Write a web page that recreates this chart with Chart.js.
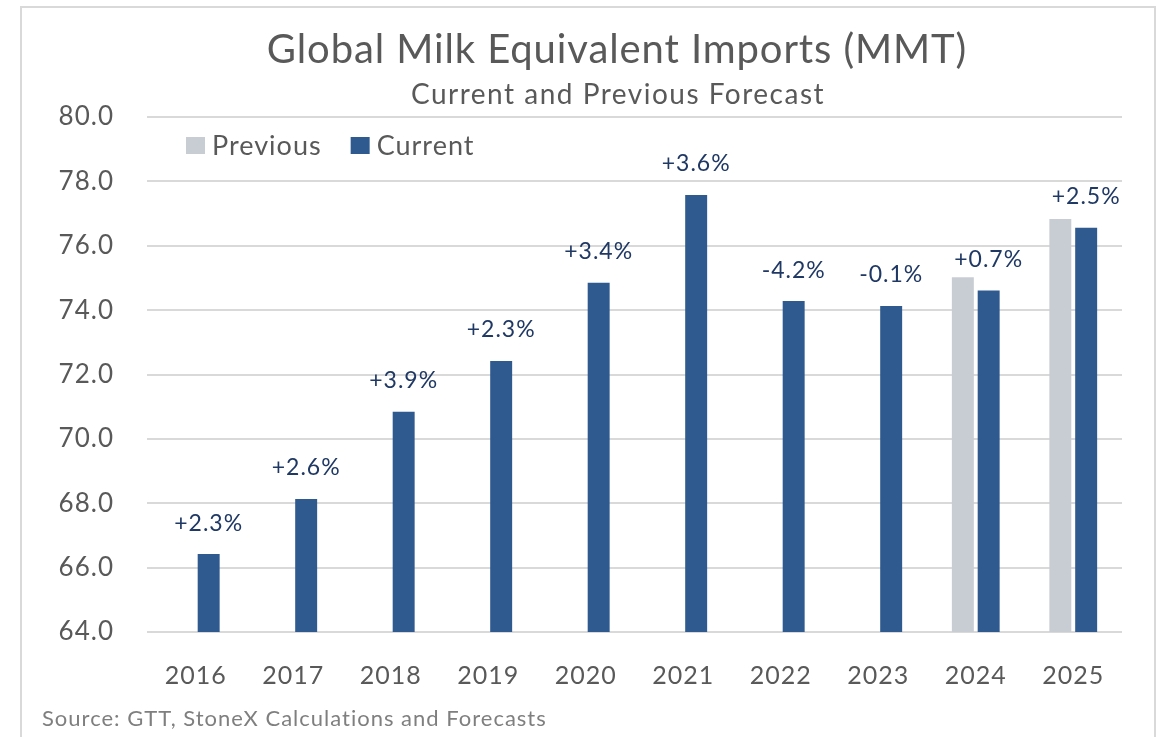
<!DOCTYPE html>
<html>
<head>
<meta charset="utf-8">
<script src="https://cdn.jsdelivr.net/npm/chart.js@4.4.1/dist/chart.umd.min.js"></script>
<style>
  html, body { margin: 0; padding: 0; background: #ffffff; }
  #wrap { position: relative; width: 1158px; height: 737px; overflow: hidden; }
  #frame { position: absolute; left: 20px; top: 6px; width: 1132px; height: 800px;
           border: 2px solid #d9d9d9; pointer-events: none; }
  canvas { position: absolute; left: 0; top: 0; }
</style>
</head>
<body>
<div id="wrap">
  <canvas id="chart" width="1158" height="737"></canvas>
  <div id="frame"></div>
</div>
<script>
// Global milk-equivalent imports, million metric tonnes
const years = ['2016', '2017', '2018', '2019', '2020', '2021', '2022', '2023', '2024', '2025'];
const previousForecast = [null, null, null, null, null, null, null, null, 75.02, 76.83];
const currentForecast = [66.42, 68.13, 70.84, 72.42, 74.85, 77.58, 74.28, 74.13, 74.61, 76.56];
const growthLabels = ['+2.3%', '+2.6%', '+3.9%', '+2.3%', '+3.4%', '+3.6%', '-4.2%', '-0.1%', '+0.7%', '+2.5%'];
const yTicks = [64, 66, 68, 70, 72, 74, 76, 78, 80];

const titleText = 'Global Milk Equivalent Imports (MMT)';
const subtitleText = 'Current and Previous Forecast';
const sourceText = 'Source: GTT, StoneX Calculations and Forecasts';

const FONT = 'Lato, "Open Sans", sans-serif';
const GREY_TEXT = '#595959';
const NAVY = '#2f5a8f';
const LIGHT = '#c8cdd4';
const LABEL_NAVY = '#1f3864';

// Slightly open tracking for every piece of text on the canvas
const trackingPlugin = {
  id: 'tracking',
  beforeDraw(chart) { chart.ctx.letterSpacing = '1px'; }
};

// Title, subtitle and source line
const headerPlugin = {
  id: 'header',
  afterDraw(chart) {
    const ctx = chart.ctx;
    ctx.save();
    ctx.fillStyle = GREY_TEXT;
    ctx.textAlign = 'center';
    ctx.textBaseline = 'alphabetic';
    ctx.letterSpacing = '0.9px';
    ctx.font = '40px ' + FONT;
    ctx.fillText(titleText, 617, 63);
    ctx.letterSpacing = '1.5px';
    ctx.font = '28px ' + FONT;
    ctx.fillText(subtitleText, 618, 104);
    ctx.textAlign = 'left';
    ctx.fillStyle = '#7f7f7f';
    ctx.letterSpacing = '1px';
    ctx.font = '22px ' + FONT;
    ctx.fillText(sourceText, 42, 726);
    ctx.restore();
  }
};

// Legend drawn inside the plot area, top-left
const insideLegend = {
  id: 'insideLegend',
  afterDraw(chart) {
    const ctx = chart.ctx;
    const area = chart.chartArea;
    let x = area.left + 39;
    const top = area.top + 20;
    ctx.save();
    ctx.letterSpacing = '1px';
    ctx.font = '27px ' + FONT;
    ctx.textBaseline = 'middle';
    ctx.textAlign = 'left';
    chart.data.datasets.forEach((ds) => {
      ctx.fillStyle = ds.backgroundColor;
      ctx.fillRect(x, top, 19, 17);
      ctx.fillStyle = GREY_TEXT;
      ctx.fillText(ds.label, x + 26, top + 9);
      x += 26 + ctx.measureText(ds.label).width + 29;
    });
    ctx.restore();
  }
};

// Year-on-year growth labels above the current bars
const growthPlugin = {
  id: 'growth',
  afterDatasetsDraw(chart) {
    const ctx = chart.ctx;
    const meta = chart.getDatasetMeta(1);
    ctx.save();
    ctx.letterSpacing = '1px';
    ctx.font = '23px ' + FONT;
    ctx.fillStyle = LABEL_NAVY;
    ctx.textAlign = 'center';
    ctx.textBaseline = 'middle';
    meta.data.forEach((bar, i) => {
      ctx.fillText(growthLabels[i], bar.x, bar.y - 31);
    });
    ctx.restore();
  }
};

new Chart(document.getElementById('chart'), {
  type: 'bar',
  data: {
    labels: years,
    datasets: [
      { label: 'Previous', data: previousForecast, backgroundColor: LIGHT,
        categoryPercentage: 0.53, barPercentage: 0.85 },
      { label: 'Current', data: currentForecast, backgroundColor: NAVY,
        categoryPercentage: 0.53, barPercentage: 0.85 }
    ]
  },
  options: {
    responsive: false,
    animation: false,
    events: [],
    layout: { padding: { top: 117, left: 20, right: 36, bottom: 0 } },
    plugins: {
      legend: { display: false },
      title: { display: false },
      tooltip: { enabled: false }
    },
    scales: {
      x: {
        grid: { display: false },
        border: { display: false },
        ticks: { color: GREY_TEXT, font: { family: FONT, size: 25 }, padding: 21 },
        afterFit(scale) { scale.height = 105; }
      },
      y: {
        min: 64,
        max: 80,
        afterBuildTicks(scale) { scale.ticks = yTicks.map(v => ({ value: v })); },
        grid: { color: '#d9d9d9', lineWidth: 2, drawTicks: false },
        border: { display: false },
        ticks: {
          color: GREY_TEXT,
          font: { family: FONT, size: 26 },
          padding: 33,
          callback: (v) => Number(v).toFixed(1)
        },
        afterFit(scale) { scale.width = 127; }
      }
    }
  },
  plugins: [trackingPlugin, headerPlugin, insideLegend, growthPlugin]
});
</script>
</body>
</html>
